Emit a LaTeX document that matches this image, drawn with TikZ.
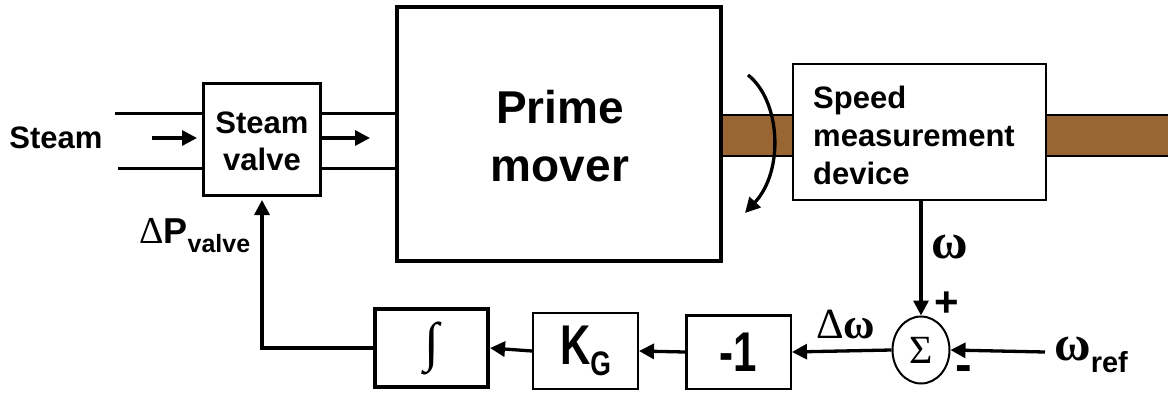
\documentclass[tikz,border=0pt]{standalone}
\usepackage{fontspec}
\usepackage{graphicx}
\setmainfont{Liberation Sans}
\newfontfamily\serf{Liberation Serif}
\usetikzlibrary{arrows.meta,shapes.geometric}
\definecolor{shaftc}{RGB}{153,102,51}
\begin{document}
\begin{tikzpicture}[x=1pt,y=-1pt,
  box/.style={draw, line width=2pt, fill=white, inner sep=0pt},
  lbl/.style={inner sep=0pt, font=\bfseries\fontsize{31}{37}\selectfont, align=center},
  arr/.style={line width=3.3pt, -{Triangle[length=15pt,width=15pt]}},
  pipe/.style={line width=3pt}]
\useasboundingbox (0,0) rectangle (1168,394);

% shaft
\fill[shaftc] (723,115) rectangle (1170,156);
\draw[line width=2.5pt] (723,115) -- (1170,115) (723,156) -- (1170,156);

% blocks
\node[box, line width=3pt, minimum width=117pt, minimum height=112pt] (valve) at (262,139.5) {};
\node[lbl] (valvetxt) at (262,141) {Steam\\valve};
\node[box, line width=4pt, minimum width=324pt, minimum height=254pt] (pm) at (559,134) {};
\node[lbl, font=\bfseries\fontsize{46}{58}\selectfont] (pmtxt) at (560,136) {Prime\\mover};
\node[box, line width=2pt, minimum width=253pt, minimum height=136pt] (speed) at (919.5,132) {};
\node[lbl, font=\bfseries\fontsize{31}{38}\selectfont, align=left, anchor=west] (speedtxt) at (813,135) {Speed\\measurement\\device};

\node[box, line width=4pt, minimum width=113pt, minimum height=78pt] (int) at (431.5,348) {\serf\fontsize{54}{54}\selectfont ∫};
\node[box, line width=2pt, minimum width=105pt, minimum height=76pt] (kg) at (585.5,351) {\bfseries\fontsize{56}{56}\selectfont\scalebox{0.75}[1]{K}\raisebox{-11pt}{\fontsize{34}{34}\selectfont\scalebox{0.78}[1]{G}}};
\node[box, line width=2.5pt, minimum width=104.5pt, minimum height=73.5pt] (m1) at (738.5,352) {\bfseries\fontsize{56}{56}\selectfont\scalebox{0.75}[1]{-1}};
\node[ellipse, draw, line width=2pt, fill=white, minimum width=57pt, minimum height=67pt, inner sep=0pt] (sum) at (921,350) {\serf\fontsize{40}{40}\selectfont Σ};

% pipes
\coordinate (p1) at (115,113);
\coordinate (p2) at (118,168);
\draw[pipe] (p1) -- (p1 -| valve.west);
\draw[pipe] (p2) -- (p2 -| valve.west);
\draw[pipe] (valve.east |- p1) -- (p1 -| pm.west);
\draw[pipe] (valve.east |- p2) -- (p2 -| pm.west);
\coordinate (s1) at (152,138);
\coordinate (s2) at (370,138);
\draw[arr] (s1) -- ([xshift=-5pt]s1 -| valve.west);
\draw[arr] (s1 -| valve.east) -- (s2);

% rotation arrow
\coordinate (r1) at (748,75);
\coordinate (r2) at (745,213);
\draw[arr] (r1) .. controls (780,100) and (785,170) .. (r2);

% feedback
\coordinate (refin) at (1045,352);
\draw[arr] (sum.north |- speed.south) -- (sum.north);
\draw[arr] (refin) -- (sum.east);
\draw[arr] (sum.west) -- (m1.east);
\draw[arr] (m1.west) -- (kg.east);
\draw[arr] (kg.west) -- (int.east);
\draw[arr, shorten >=3pt] (int.west) -| (valve.south);

% labels
\node[lbl] (steamlbl) at (56,138) {Steam};
\node[inner sep=0pt, anchor=base west] (dp) at (139,243) {{\serf\fontsize{38}{38}\selectfont Δ}{\bfseries\fontsize{36}{36}\selectfont P}\raisebox{-9pt}{\bfseries\fontsize{25}{25}\selectfont valve}};
\node[inner sep=0pt, anchor=base west] (om) at (931,258) {\serf\bfseries\fontsize{50}{50}\selectfont ω};
\node[inner sep=0pt, anchor=base west] (dom) at (816,338) {\serf\fontsize{43}{43}\selectfont Δ\bfseries ω};
\node[inner sep=0pt, font=\bfseries\fontsize{42}{42}\selectfont] (plus) at (947,304) {+};
\node[inner sep=0pt, font=\bfseries\fontsize{50}{50}\selectfont] (minus) at (964,374) {-};
\node[inner sep=0pt, anchor=base west] (wref) at (1054,360) {{\serf\bfseries\fontsize{50}{50}\selectfont ω}\raisebox{-12pt}{\bfseries\fontsize{29}{29}\selectfont ref}};
\end{tikzpicture}
\end{document}
